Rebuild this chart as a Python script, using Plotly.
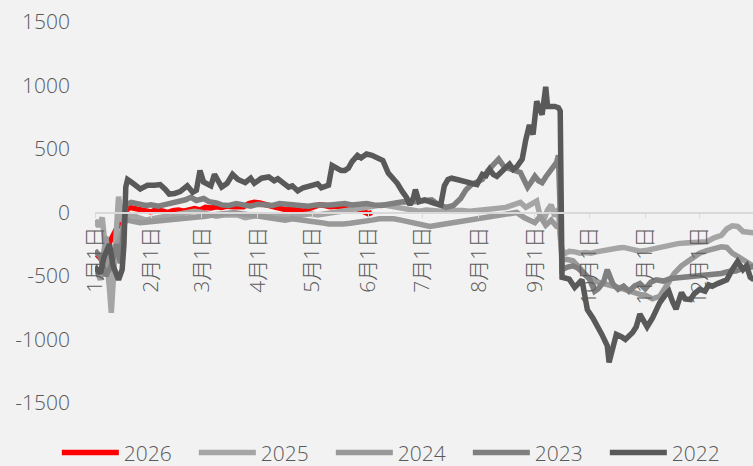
import plotly.graph_objects as go

# month labels (x axis is day of year, 0 = Jan 1)
month_days = [0, 31, 59, 90, 120, 151, 181, 212, 243, 273, 304, 334]
month_labels = ["1月1日", "2月1日", "3月1日", "4月1日", "5月1日", "6月1日",
                "7月1日", "8月1日", "9月1日", "10月1日", "11月1日", "12月1日"]
y_ticks = [-1500, -1000, -500, 0, 500, 1000, 1500]
y_labels = ["-1500", "-1000", "-500", "0", "500", "1000", "1500"]

# 2026
days_2026 = [1, 3, 5, 8, 11, 14, 17, 19, 22, 25, 28, 31, 34, 37, 40, 43, 46, 49, 52, 55,
             58, 61, 64, 67, 70, 73, 76, 79, 82, 85, 88, 91, 94, 97, 100, 103, 106, 109,
             112, 115, 118, 121, 124, 127, 130, 133, 136, 139, 142, 145, 148, 151, 153]
vals_2026 = [-330, -360, -320, -240, -150, -60, 15, 40, 30, 20, 10, 5, 25, 10, 0, 15, 20, 10,
             25, 30, 20, 40, 35, 45, 40, 50, 45, 40, 45, 70, 80, 75, 60, 50, 40, 30, 20, 25,
             20, 10, 30, 50, 60, 55, 45, 50, 40, 45, 50, 30, 10, -10, 0]

# 2025
days_2025 = [0, 2, 4, 6, 8, 9, 10, 12, 13, 15, 17, 20, 24, 28, 31, 35, 39, 43, 47, 51, 55,
             59, 63, 67, 71, 75, 79, 83, 87, 91, 95, 99, 103, 107, 111, 115, 119, 123, 127,
             131, 135, 139, 143, 147, 151, 155, 159, 163, 167, 171, 175, 179, 183, 187, 191,
             195, 199, 203, 207, 211, 215, 219, 223, 227, 231, 235, 238, 241, 244, 246, 248,
             250, 252, 254, 256, 257, 258, 260, 262, 265, 268, 271, 274, 277, 280, 283, 286,
             289, 292, 295, 298, 301, 304, 307, 310, 313, 316, 319, 322, 326, 330, 334, 338,
             342, 346, 349, 352, 355, 358, 361, 364]
vals_2025 = [-60, -110, -40, -300, -600, -790, -500, -100, 125, -50, -40, -20, -40, -60, -50,
             -40, -30, -20, -10, 0, 10, 0, -10, -30, -20, -25, -20, -40, -30, -20, -30, -25,
             -30, -35, -30, -20, -10, -20, -10, 0, 10, 20, 30, 40, 50, 55, 60, 50, 40, 30, 20,
             10, 20, 10, 10, 15, 20, 15, 10, 15, 15, 20, 30, 40, 60, 80, 40, 70, 90, -40, -55,
             20, 60, -30, 30, -200, -300, -320, -305, -310, -320, -315, -320, -310, -300, -295,
             -290, -280, -275, -285, -295, -305, -300, -290, -280, -270, -260, -250, -245, -240,
             -235, -235, -230, -200, -180, -130, -105, -110, -150, -155, -160]

# 2024
days_2024 = [0, 3, 6, 8, 11, 14, 16, 18, 21, 25, 29, 33, 37, 41, 45, 49, 53, 57, 61, 65, 69,
             73, 77, 81, 85, 89, 93, 97, 101, 105, 109, 113, 117, 121, 125, 129, 133, 137, 141,
             145, 149, 153, 157, 161, 165, 169, 173, 177, 181, 185, 189, 193, 197, 201, 205,
             209, 213, 217, 221, 225, 229, 233, 237, 240, 243, 246, 249, 252, 255, 257, 258,
             261, 264, 267, 270, 273, 277, 281, 285, 289, 293, 297, 301, 304, 308, 312, 316,
             320, 324, 328, 330, 334, 338, 342, 346, 349, 352, 355, 359, 364]
vals_2024 = [-420, -530, -190, -450, -300, -200, -80, -60, -70, -80, -75, -70, -65, -55, -60,
             -50, -45, -40, -30, -20, -10, -5, 0, -10, -20, -30, -40, -50, -55, -60, -50, -55,
             -60, -70, -80, -90, -95, -90, -85, -80, -70, -60, -50, -45, -50, -60, -75, -90,
             -100, -110, -100, -90, -80, -70, -60, -50, -45, -40, -30, -20, -10, 0, -40, -60,
             -80, -30, -100, -60, -110, -120, -370, -370, -380, -425, -480, -520, -545, -565,
             -575, -590, -610, -630, -645, -650, -680, -660, -560, -480, -420, -380, -350,
             -320, -300, -285, -270, -275, -320, -345, -380, -425]

# 2023
days_2023 = [0, 3, 6, 9, 12, 14, 16, 17, 20, 24, 28, 31, 35, 38, 42, 46, 50, 53, 56, 60, 63,
             67, 70, 74, 78, 82, 86, 90, 94, 98, 102, 106, 110, 114, 118, 122, 126, 130, 134,
             138, 142, 146, 150, 154, 158, 162, 166, 170, 174, 178, 182, 186, 190, 194, 198,
             202, 205, 208, 211, 214, 217, 220, 223, 226, 229, 232, 235, 237, 239, 241, 243,
             245, 247, 249, 251, 253, 255, 256, 257, 258, 261, 264, 267, 270, 273, 276, 278,
             281, 283, 286, 289, 292, 295, 298, 301, 304, 307, 310, 314, 318, 322, 326, 330,
             334, 338, 342, 346, 350, 354, 358, 362, 364]
vals_2023 = [-300, -350, -500, -420, -250, -400, -100, 60, 80, 70, 55, 60, 50, 60, 70, 80, 100,
             120, 95, 110, 85, 75, 60, 55, 70, 60, 50, 65, 60, 55, 70, 65, 60, 55, 50, 60, 55,
             60, 65, 70, 60, 65, 70, 60, 55, 65, 80, 85, 80, 90, 95, 100, 60, 40, 55, 110, 180,
             220, 240, 260, 330, 380, 420, 360, 340, 330, 315, 260, 200, 240, 285, 250, 235,
             280, 315, 360, 395, 450, -250, -450, -430, -420, -440, -480, -520, -620, -600,
             -545, -450, -560, -605, -580, -620, -580, -560, -600, -550, -530, -540, -520, -515,
             -510, -500, -505, -495, -490, -480, -465, -460, -440, -430, -425]

# 2022
days_2022 = [0, 3, 5, 8, 10, 13, 15, 16, 17, 18, 20, 22, 25, 27, 29, 33, 36, 39, 41, 44, 47,
             51, 54, 56, 58, 60, 62, 64, 66, 68, 70, 73, 76, 79, 81, 83, 86, 88, 90, 92, 96,
             99, 101, 103, 105, 107, 109, 112, 115, 117, 119, 121, 123, 125, 127, 129, 131,
             134, 136, 138, 140, 142, 145, 147, 150, 153, 156, 159, 162, 164, 167, 170, 172,
             174, 176, 177, 179, 182, 185, 188, 191, 193, 195, 197, 200, 203, 205, 208, 211,
             214, 216, 218, 220, 222, 224, 226, 229, 231, 233, 235, 236, 238, 240, 242, 244,
             247, 249, 250, 252, 254, 256, 257, 258, 262, 265, 269, 272, 275, 280, 283, 284,
             286, 288, 291, 293, 297, 299, 301, 303, 305, 308, 310, 312, 315, 317, 319, 321,
             324, 326, 329, 331, 334, 337, 339, 341, 344, 347, 349, 352, 355, 358, 360, 362,
             364]
vals_2022 = [-430, -480, -350, -250, -420, -530, -450, -250, 200, 260, 240, 220, 185, 200, 215,
             215, 220, 180, 145, 150, 165, 210, 160, 175, 330, 240, 220, 210, 300, 250, 200,
             230, 300, 260, 250, 235, 270, 230, 250, 270, 280, 250, 265, 240, 225, 200, 210,
             170, 195, 200, 215, 220, 225, 195, 200, 215, 370, 340, 330, 330, 350, 400, 450,
             430, 460, 450, 430, 410, 310, 280, 230, 160, 120, 60, 120, 180, 85, 100, 80, 70,
             60, 210, 260, 270, 260, 250, 245, 230, 220, 300, 290, 340, 300, 285, 320, 340,
             380, 340, 360, 400, 420, 575, 690, 615, 875, 770, 990, 835, 840, 835, 825, 800,
             -510, -525, -590, -530, -765, -830, -960, -1050, -1180, -1050, -960, -980, -1000,
             -945, -900, -800, -860, -900, -830, -760, -710, -650, -620, -700, -760, -630, -680,
             -685, -640, -605, -620, -570, -580, -560, -540, -530, -450, -385, -450, -420, -510,
             -530]

series = [
    ("2026", days_2026, vals_2026, "#FF0000"),
    ("2025", days_2025, vals_2025, "#A5A5A5"),
    ("2024", days_2024, vals_2024, "#999999"),
    ("2023", days_2023, vals_2023, "#7F7F7F"),
    ("2022", days_2022, vals_2022, "#595959"),
]

font_family = "Open Sans, Noto Sans CJK SC, sans-serif"
text_color = "#595959"
label_font = dict(family=font_family, size=21, color=text_color, weight=300)

fig = go.Figure()
for name, d, v, color in series:
    fig.add_trace(go.Scatter(x=d, y=v, mode="lines", name=name,
                             line=dict(color=color, width=5.5)))

fig.update_layout(
    width=753, height=466,
    paper_bgcolor="#F2F2F2", plot_bgcolor="#F2F2F2",
    margin=dict(l=95, r=0, t=22, b=63, autoexpand=False),
    font=label_font,
    showlegend=True,
    legend=dict(orientation="h", x=-0.058, xanchor="left", y=-0.131, yanchor="middle",
                font=label_font, bgcolor="rgba(0,0,0,0)",
                itemwidth=57, entrywidth=65),
    xaxis=dict(range=[0, 363.5], tickvals=month_days, ticktext=month_labels,
               tickangle=-90, showgrid=False, zeroline=False,
               showline=True, linecolor="#D9D9D9", linewidth=1.5,
               ticks="outside", ticklen=5, tickcolor="#D9D9D9",
               anchor="free", position=0.5, automargin=False,
               tickfont=label_font),
    yaxis=dict(range=[-1500, 1500], tickvals=y_ticks, ticktext=y_labels,
               showgrid=False, zeroline=False, showline=False,
               ticklabelstandoff=24, automargin=False,
               tickfont=label_font),
)

# drop the default page margin so the chart sits at the window's top-left corner
fig.write_html("out.html", config={"displayModeBar": False},
               post_script="document.body.style.margin='0';")
